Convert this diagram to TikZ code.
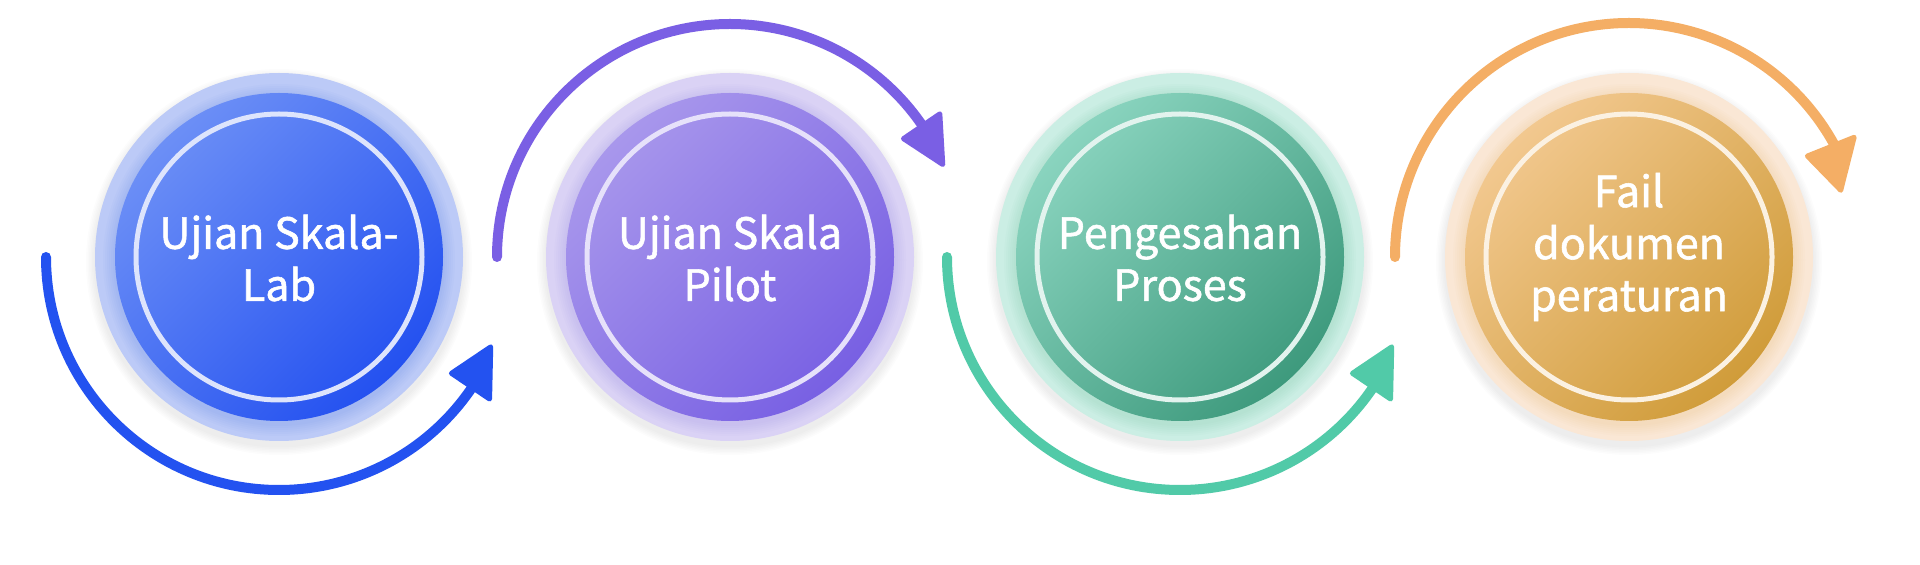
\documentclass[tikz,border=0pt]{standalone}
\usepackage{fontspec}
\newfontfamily\labelfont{Noto Sans CJK SC}[FakeBold=1.3]
\usetikzlibrary{calc}
\definecolor{bArrow}{HTML}{2352F0}
\definecolor{bLight}{HTML}{6C8FF6}
\definecolor{bDark}{HTML}{2451F0}
\definecolor{bHalo}{HTML}{BCCAF7}
\definecolor{bRing}{HTML}{DDE4FC}
\definecolor{pArrow}{HTML}{7A5FE4}
\definecolor{pLight}{HTML}{A897EC}
\definecolor{pDark}{HTML}{7860E3}
\definecolor{pHalo}{HTML}{DAD2F5}
\definecolor{pRing}{HTML}{E6E1FA}
\definecolor{gArrow}{HTML}{51CAA8}
\definecolor{gLight}{HTML}{8AD4BF}
\definecolor{gDark}{HTML}{3E9A7D}
\definecolor{gHalo}{HTML}{CBEEE4}
\definecolor{gRing}{HTML}{E2F3EE}
\definecolor{oArrow}{HTML}{F4AE65}
\definecolor{oLight}{HTML}{F2C88F}
\definecolor{oDark}{HTML}{D09C3A}
\definecolor{oHalo}{HTML}{FAE7D5}
\definecolor{oRing}{HTML}{FBF1E2}
\tikzset{
  halo/.style={circle, minimum size=368pt, inner sep=0pt, fill=#1},
  core/.style n args={2}{circle, minimum size=328pt, inner sep=0pt, top color=#1, bottom color=#2, shading angle=45},
  ringline/.style={circle, minimum size=286pt, inner sep=0pt, draw=#1, line width=5pt},
  lbl/.style={text=white, align=center, font=\labelfont\fontsize{43}{52}\selectfont},
  loopline/.style={line width=10pt, line cap=round, draw=#1},
  headtri/.style={fill=#1, draw=#1, line width=5pt, line join=round},
}
\begin{document}
\begin{tikzpicture}[x=1pt,y=1pt]
\fill[white] (0,0) rectangle (1920,565);
\useasboundingbox (0,0) rectangle (1920,565);
\coordinate (C1) at (279,308);
\coordinate (C2) at (730,308);
\coordinate (C3) at (1180,308);
\coordinate (C4) at (1629,308);
% soft shadows and glows
\foreach \c/\h/\d in {C1/bHalo/bDark,C2/pHalo/pDark,C3/gHalo/gDark,C4/oHalo/oDark}{
  \foreach \i in {1,...,6}
    \fill[black, opacity=0.01] ($(\c)+(0,-5)$) circle[radius={184pt+1.5pt*\i}];
  \node[halo=\h] at (\c) {};
  \foreach \i in {1,...,6}
    \fill[\d, opacity=0.025] ($(\c)+(0,-3)$) circle[radius={164pt+2pt*\i}];
}
% circles
\node[core={bLight}{bDark}] (k1) at (C1) {};
\node[ringline=bRing] (r1) at (C1) {};
\node[lbl] (t1) at ($(C1)+(0,-1)$) {Ujian Skala-\\Lab};
\node[core={pLight}{pDark}] (k2) at (C2) {};
\node[ringline=pRing] (r2) at (C2) {};
\node[lbl] (t2) at ($(C2)+(0,-1)$) {Ujian Skala\\Pilot};
\node[core={gLight}{gDark}] (k3) at (C3) {};
\node[ringline=gRing] (r3) at (C3) {};
\node[lbl] (t3) at ($(C3)+(0,-1)$) {Pengesahan\\Proses};
\node[core={oLight}{oDark}] (k4) at (C4) {};
\node[ringline=oRing] (r4) at (C4) {};
\node[lbl] (t4) at ($(C4)+(0,10)$) {Fail\\dokumen\\peraturan};
% loops
\coordinate (s1) at ($(C1)+(180:233pt)$);
\draw[loopline=bArrow] (s1) arc[start angle=180, end angle=328, radius=233pt];
\fill[headtri=bArrow] ($(C1)+(337:230pt)$) -- ($(C1)+(326:208pt)$) -- ($(C1)+(326:254pt)$) -- cycle;
\coordinate (s2) at ($(C2)+(180:233pt)$);
\draw[loopline=pArrow] (s2) arc[start angle=180, end angle=32, radius=233pt];
\fill[headtri=pArrow] ($(C2)+(23.5:232pt)$) -- ($(C2)+(34.3:210pt)$) -- ($(C2)+(34.3:254pt)$) -- cycle;
\coordinate (s3) at ($(C3)+(180:233pt)$);
\draw[loopline=gArrow] (s3) arc[start angle=180, end angle=328, radius=233pt];
\fill[headtri=gArrow] ($(C3)+(337:230pt)$) -- ($(C3)+(326:208pt)$) -- ($(C3)+(326:254pt)$) -- cycle;
\coordinate (s4) at ($(C4)+(180:234pt)$);
\draw[loopline=oArrow] (s4) arc[start angle=180, end angle=28, radius=234pt];
\fill[headtri=oArrow] ($(C4)+(17.5:222pt)$) -- ($(C4)+(29.5:205pt)$) -- ($(C4)+(28:255pt)$) -- cycle;
\end{tikzpicture}
\end{document}
